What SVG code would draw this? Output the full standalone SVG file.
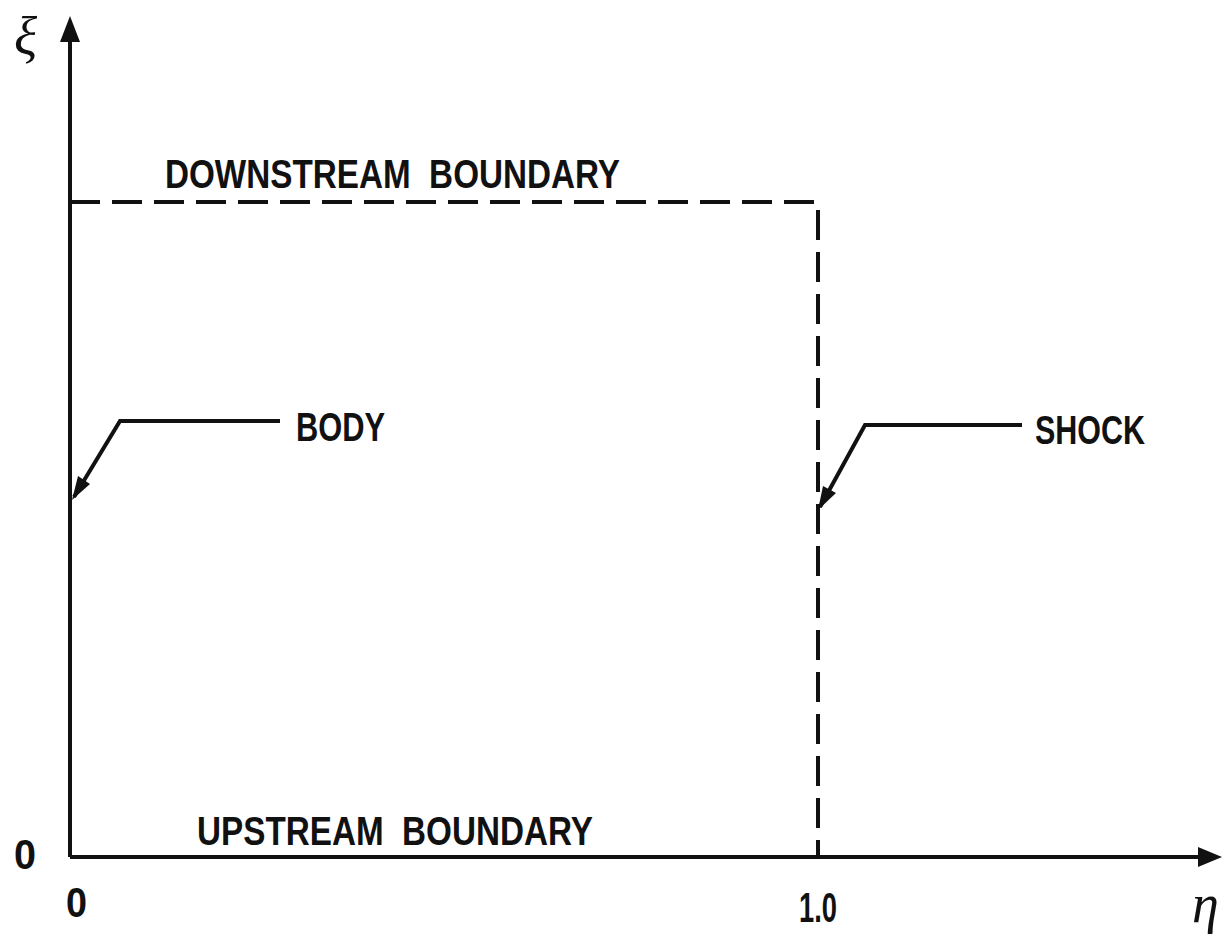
<svg xmlns="http://www.w3.org/2000/svg" width="1223" height="939" viewBox="0 0 1223 939">
<style>
.t{font-family:"Liberation Sans",Arial,sans-serif;font-weight:bold;fill:#111;font-size:40px;white-space:pre}
.n{font-family:"Liberation Sans",Arial,sans-serif;font-weight:bold;fill:#111;font-size:42px}
.g{font-family:"Liberation Serif","Times New Roman",serif;font-style:italic;fill:#111;font-size:54px}
.ln{stroke:#111;stroke-width:4;fill:none}
.dash{stroke:#111;stroke-width:4;fill:none;stroke-dasharray:30,12}
</style>
<rect width="1223" height="939" fill="#fff"/>
<g id="axes">
<line class="ln" x1="70" y1="857" x2="70" y2="42"/>
<path d="M70,16 L60,42 L80,42 Z" fill="#111"/>
<line class="ln" x1="70" y1="857" x2="1198" y2="857"/>
<path d="M1222,857 L1198,847 L1198,867 Z" fill="#111"/>
<text class="g" x="14" y="55">ξ</text>
<text class="g" x="1192" y="922">η</text>
<text class="n" x="14" y="869" textLength="22" lengthAdjust="spacingAndGlyphs">0</text>
<text class="n" x="66" y="917" textLength="21" lengthAdjust="spacingAndGlyphs">0</text>
<text class="n" x="799" y="922" font-size="37" textLength="38" lengthAdjust="spacingAndGlyphs">1.0</text>
</g>
<g id="downstream">
<path class="dash" d="M70,202 H818 V857"/>
<text class="t" x="165" y="188" xml:space="preserve" textLength="455" lengthAdjust="spacingAndGlyphs">DOWNSTREAM  BOUNDARY</text>
</g>
<g id="upstream">
<text class="t" x="197" y="845" xml:space="preserve" textLength="396" lengthAdjust="spacingAndGlyphs">UPSTREAM  BOUNDARY</text>
</g>
<g id="body">
<text class="t" x="296" y="441" textLength="89" lengthAdjust="spacingAndGlyphs">BODY</text>
</g>
<g id="shock">
<text class="t" x="1035" y="444" textLength="110" lengthAdjust="spacingAndGlyphs">SHOCK</text>
</g>
<g id="connectors">
<path class="ln" d="M280,421 H120 L74,497"/>
<path d="M72,500 L78,476 L90,484 Z" fill="#111"/>
<path class="ln" d="M1022,425 H865 L820,507"/>
<path d="M818,510 L823,486 L836,493 Z" fill="#111"/>
</g>
</svg>
